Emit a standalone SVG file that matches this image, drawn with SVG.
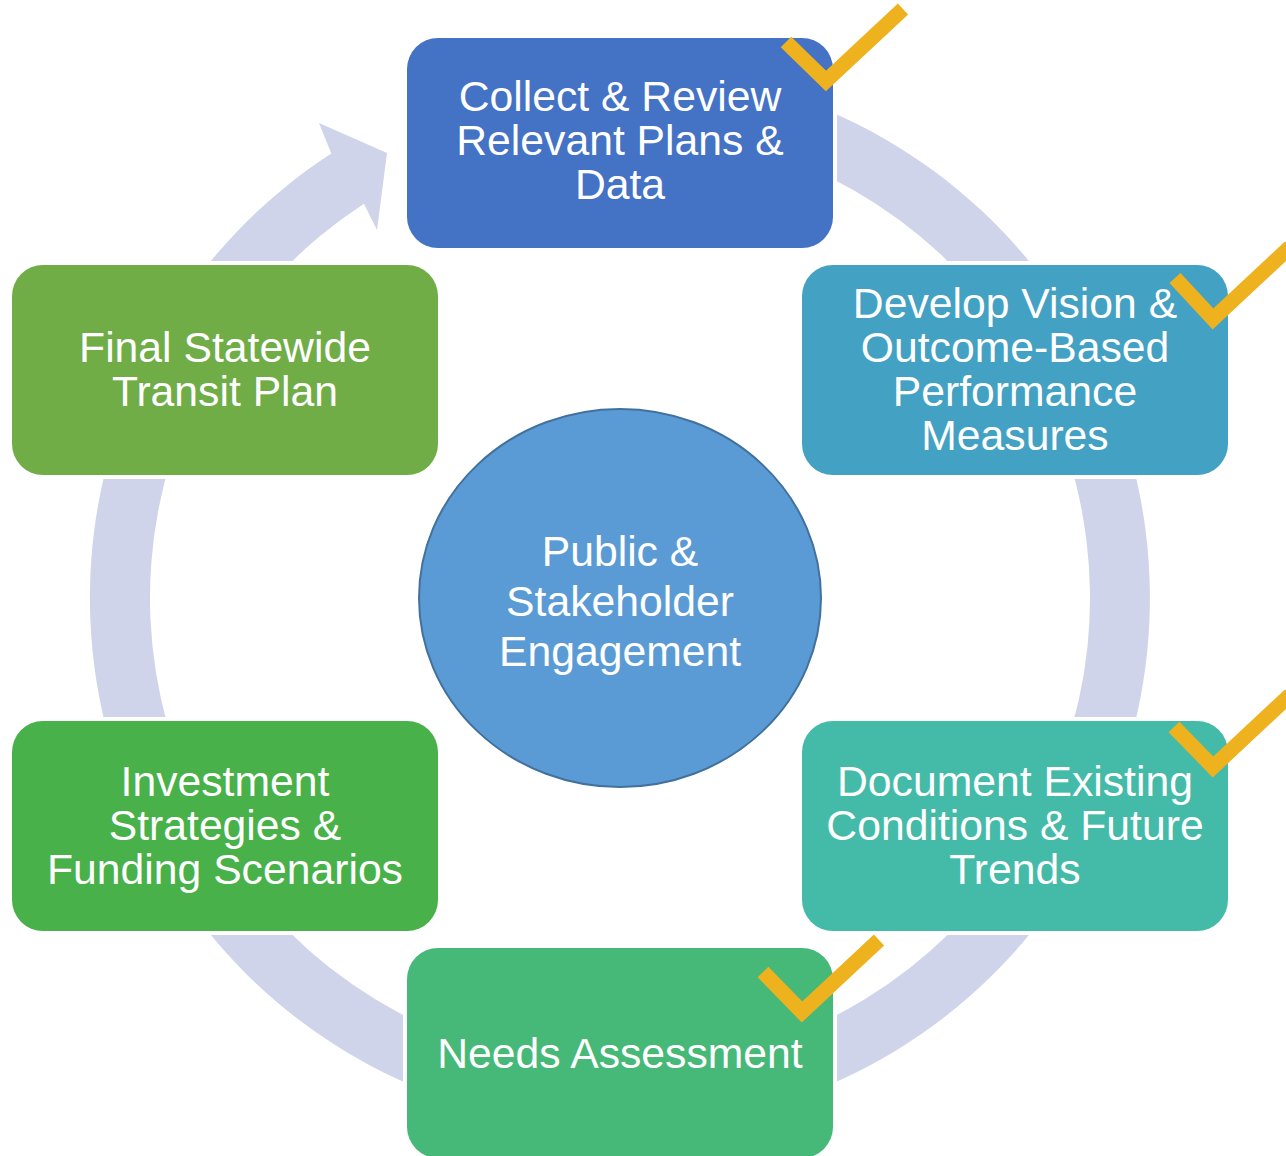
<svg xmlns="http://www.w3.org/2000/svg" width="1286" height="1156" viewBox="0 0 1286 1156">
<style>
.box{stroke:#fff;stroke-width:8;paint-order:stroke}
.t{font-family:"Liberation Sans",Arial,sans-serif;font-size:42.7px;fill:#fff;text-anchor:middle}
.chk{fill:none;stroke:#EFB21F;stroke-width:15;stroke-linejoin:miter;stroke-linecap:butt}
</style>
<rect width="1286" height="1156" fill="#fff"/>
<g id="connectors">
<path id="cycle-ring" fill="#CFD4EA" d="M 712.0 76.1 A 530 530 0 1 1 331.3 153.5 L 319 123 L 387 153 L 377 230 L 364.0 203.8 A 470 470 0 1 0 701.6 135.1 Z"/>
</g>
<g id="node-collect">
<rect class="box" x="407" y="38" width="426" height="210" rx="31" fill="#4472C4"/>
<text class="t" x="620" y="111">Collect &amp; Review</text>
<text class="t" x="620" y="155">Relevant Plans &amp;</text>
<text class="t" x="620" y="199">Data</text>
</g>
<g id="node-vision">
<rect class="box" x="802" y="265" width="426" height="210" rx="31" fill="#43A1C3"/>
<text class="t" x="1015" y="318">Develop Vision &amp;</text>
<text class="t" x="1015" y="362">Outcome-Based</text>
<text class="t" x="1015" y="406">Performance</text>
<text class="t" x="1015" y="450">Measures</text>
</g>
<g id="node-document">
<rect class="box" x="802" y="721" width="426" height="210" rx="31" fill="#44BBA8"/>
<text class="t" x="1015" y="796">Document Existing</text>
<text class="t" x="1015" y="840">Conditions &amp; Future</text>
<text class="t" x="1015" y="884">Trends</text>
</g>
<g id="node-needs">
<rect class="box" x="407" y="948" width="426" height="210" rx="31" fill="#46B978"/>
<text class="t" x="620" y="1068">Needs Assessment</text>
</g>
<g id="node-investment">
<rect class="box" x="12" y="721" width="426" height="210" rx="31" fill="#48B149"/>
<text class="t" x="225" y="796">Investment</text>
<text class="t" x="225" y="840">Strategies &amp;</text>
<text class="t" x="225" y="884">Funding Scenarios</text>
</g>
<g id="node-final">
<rect class="box" x="12" y="265" width="426" height="210" rx="31" fill="#70AD47"/>
<text class="t" x="225" y="362">Final Statewide</text>
<text class="t" x="225" y="406">Transit Plan</text>
</g>
<g id="node-engagement">
<ellipse cx="620" cy="598" rx="201" ry="189" fill="#5B9BD5" stroke="#41719C" stroke-width="2"/>
<text class="t" x="620" y="566">Public &amp;</text>
<text class="t" x="620" y="616">Stakeholder</text>
<text class="t" x="620" y="666">Engagement</text>
</g>
<g id="checkmarks">
<polyline class="chk" points="786,42 826,81 903,9"/>
<polyline class="chk" points="1175,278 1213,319 1290,247"/>
<polyline class="chk" points="1174,727 1213,767 1290,695"/>
<polyline class="chk" points="763,972 802,1012 879,940"/>
</g>
</svg>
